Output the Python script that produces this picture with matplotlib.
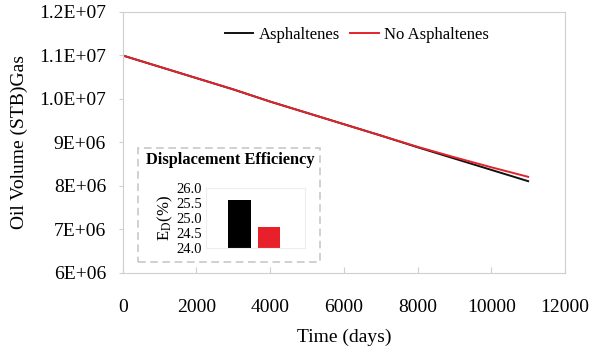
import matplotlib.pyplot as plt
from matplotlib.patches import Rectangle

plt.rcParams['font.family'] = ['Liberation Serif', 'DejaVu Serif']
plt.rcParams['mathtext.fontset'] = 'stix'

# data
days = [0, 1000, 2000, 3000, 4000, 5000, 6000, 7000, 8000, 9000, 10000, 11000]
asph = [1.100e7, 1.074e7, 1.048e7, 1.022e7, 9.94e6, 9.68e6, 9.42e6, 9.16e6,
        8.89e6, 8.63e6, 8.37e6, 8.11e6]
no_asph = [1.100e7, 1.074e7, 1.048e7, 1.022e7, 9.94e6, 9.68e6, 9.42e6, 9.16e6,
           8.90e6, 8.66e6, 8.43e6, 8.21e6]

yticks = [6e6, 7e6, 8e6, 9e6, 1.0e7, 1.1e7, 1.2e7]
ylabels = ['6E+06', '7E+06', '8E+06', '9E+06', '1.0E+07', '1.1E+07', '1.2E+07']
xticks = [0, 2000, 4000, 6000, 8000, 10000, 12000]

ed_cases = ['Asphaltenes', 'No Asphaltenes']
ed_vals = [25.6, 24.72]

spine_c = '#cfcfcf'

fig = plt.figure(figsize=(5.89, 3.52), dpi=100)
ax = fig.add_axes([0.2083, 0.2245, 0.7510, 0.7415])

ax.plot(days, asph, color='#111111', lw=1.4, label='Asphaltenes')
ax.plot(days, no_asph, color='#e3232b', lw=1.4, label='No Asphaltenes')

ax.set_xlim(0, 12000)
ax.set_ylim(6e6, 1.2e7)
ax.set_xticks(xticks)
ax.set_yticks(yticks)
ax.set_yticklabels(ylabels)
for s in ax.spines.values():
    s.set_color(spine_c)
ax.tick_params(axis='x', direction='in', length=4, color=spine_c, pad=19, labelsize=14)
ax.tick_params(axis='y', direction='out', length=3, color=spine_c, pad=9, labelsize=14)
ax.set_xlabel('Time (days)', fontsize=14, labelpad=9)
ax.set_ylabel('Oil Volume (STB)Gas', fontsize=14, labelpad=8)

ax.legend(loc='upper center', bbox_to_anchor=(0.53, 1.0), ncol=2, frameon=False,
          fontsize=12, handlelength=1.7, handletextpad=0.35, columnspacing=0.6)

# inset: displacement efficiency
fig.patches.append(Rectangle((0.2343, 0.2557), 0.3090, 0.3238, transform=fig.transFigure,
                             fill=False, ls=(0, (5, 3)), lw=1.1, ec='#c4c4c4'))
fig.text(0.3905, 0.5455, 'Displacement Efficiency', ha='center', va='center',
         fontsize=11.8, fontweight='bold')

ins = fig.add_axes([0.3497, 0.2946, 0.1681, 0.1705])
ins.bar([0, 1], ed_vals, width=0.79, color=['#000000', '#e8202a'])
ins.set_xlim(-1.17, 2.24)
ins.set_ylim(24.0, 26.0)
ins.set_yticks([24.0, 24.5, 25.0, 25.5, 26.0])
ins.set_yticklabels(['24.0', '24.5', '25.0', '25.5', '26.0'])
ins.set_xticks([])
ins.tick_params(axis='y', length=0, pad=3, labelsize=10.5)
for s in ins.spines.values():
    s.set_color('#eeeeee')
ins.set_ylabel(r'E$_{\mathrm{D}}$(%)', fontsize=12, labelpad=1)

fig.savefig('out.png', dpi=100)
